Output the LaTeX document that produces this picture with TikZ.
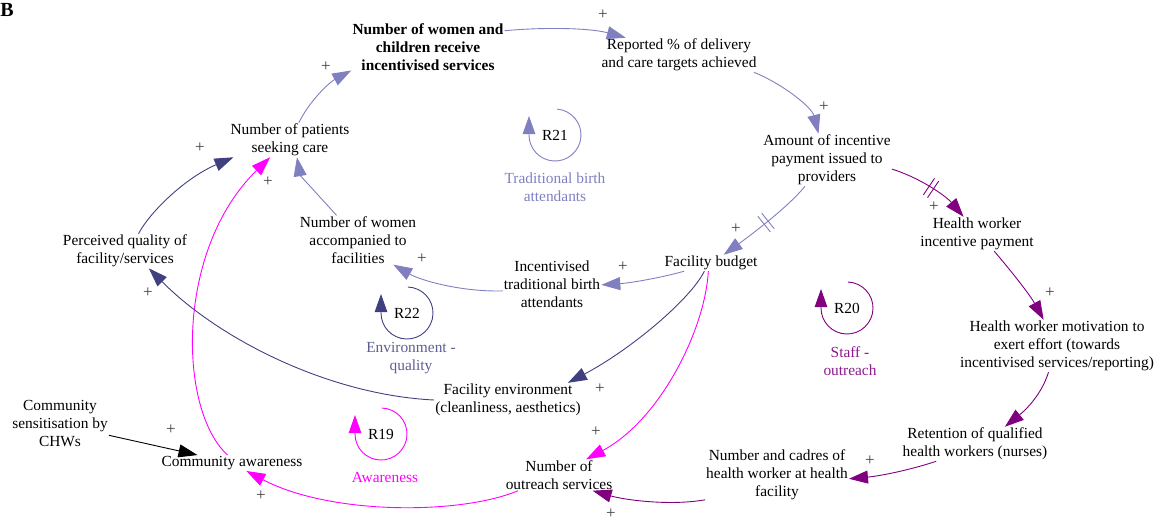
\documentclass[tikz,border=0pt]{standalone}
\usepackage{fontspec}
\setmainfont{Liberation Serif}
\usetikzlibrary{arrows.meta,decorations.markings}

\definecolor{lav}{RGB}{128,128,192}
\definecolor{navy}{RGB}{64,64,128}
\definecolor{mag}{RGB}{255,0,255}
\definecolor{purp}{RGB}{128,0,128}

\begin{document}
\begin{tikzpicture}[x=1pt,y=-1pt,
  lbl/.style={align=center, inner sep=1pt, font=\fontsize{15.4}{18}\selectfont},
  pls/.style={inner sep=0pt, font=\fontsize{17}{17}\selectfont, text=black!75},
  link/.style={line width=0.9pt, -{Triangle[length=19pt,width=13pt]}},
  loopline/.style={line width=0.9pt, -{Triangle[length=18pt,width=12.5pt]}},
  delaymark/.style={postaction={decorate,decoration={markings,
      mark=at position #1 with {\draw[line width=0.9pt,-] (-2.5pt,-10pt) -- (-2.5pt,10pt) (2.5pt,-10pt) -- (2.5pt,10pt);}}}},
]
\useasboundingbox (0,0) rectangle (1158,522);

% panel letter
\node[inner sep=0pt, font=\fontsize{20}{20}\selectfont\bfseries] (panel) at (7,10) {B};

% variables
\node[lbl, font=\fontsize{15.4}{18}\selectfont\bfseries] (women) at (428,47) {Number of women and\\children receive\\incentivised services};
\node[lbl] (rep)  at (679,55)  {Reported \% of delivery\\and care targets achieved};
\node[lbl] (amt)  at (827,160) {Amount of incentive\\payment issued to\\providers};
\node[lbl] (hwi)  at (977,234) {Health worker\\incentive payment};
\node[lbl] (hwm)  at (1057,346) {Health worker motivation to\\exert effort (towards\\incentivised services/reporting)};
\node[lbl] (ret)  at (975,444) {Retention of qualified\\health workers (nurses)};
\node[lbl] (cad)  at (777,475) {Number and cadres of\\health worker at health\\facility};
\node[lbl] (out)  at (559,475) {Number of\\outreach services};
\node[lbl] (caw)  at (232,463) {Community awareness};
\node[lbl] (sens) at (60,424)  {Community\\sensitisation by\\CHWs};
\node[lbl] (perc) at (125,251) {Perceived quality of\\facility/services};
\node[lbl] (pat)  at (290,140) {Number of patients\\seeking care};
\node[lbl] (acc)  at (358,240) {Number of women\\accompanied to\\facilities};
\node[lbl] (tba)  at (552,284) {Incentivised\\traditional birth\\attendants};
\node[lbl] (bud)  at (711,263) {Facility budget};
\node[lbl] (env)  at (508,400) {Facility environment\\(cleanliness, aesthetics)};

% loop identifiers
\node[lbl] (r21) at (555,135) {R21};
\node[lbl] (r22) at (407,313) {R22};
\node[lbl] (r19) at (381,434) {R19};
\node[lbl] (r20) at (847,308) {R20};
\node[lbl, text=lav]      (r21n) at (555,187) {Traditional birth\\attendants};
\node[lbl, text=navy!85]  (r22n) at (411,358) {Environment -\\quality};
\node[lbl, text=mag]      (r19n) at (385,477) {Awareness};
\node[lbl, text=purp!90]  (r20n) at (850,361) {Staff -\\outreach};

\draw[loopline, lav]  ([shift={(85:26pt)}]r21.center) arc[start angle=85, end angle=-180, radius=26pt] -- ++(0,-19);
\draw[loopline, navy] ([shift={(88:26pt)}]r22.center) arc[start angle=88, end angle=-180, radius=26pt] -- ++(0,-19);
\draw[loopline, mag]  ([shift={(88:26pt)}]r19.center) arc[start angle=88, end angle=-180, radius=26pt] -- ++(0,-19);
\draw[loopline, purp] ([shift={(88:26pt)}]r20.center) arc[start angle=88, end angle=-180, radius=26pt] -- ++(0,-19);

% causal links
\draw[link, lav]  (pat.63)  .. controls (310,100) and (330,82) .. (women.197);
\draw[link, lav]  (women.12) .. controls (545,27) and (590,28) .. (rep.162);
\draw[link, lav]  (rep.347) .. controls (785,85) and (812,108) .. (amt.108);
\draw[link, lav, delaymark=0.5] (amt.230) .. controls (790,205) and (755,232) .. (bud.33);
\draw[link, purp, delaymark=0.5] (amt.352) .. controls (918,177) and (945,195) .. (hwi.128);
\draw[link, purp] (hwi.315) .. controls (1012,272) and (1030,295) .. (hwm.117);
\draw[link, purp] (hwm.252) .. controls (1042,393) and (1028,408) .. (ret.30);
\draw[link, purp] (ret.204) .. controls (910,470) and (880,476) .. (cad.357);
\draw[link, purp] (cad.199) .. controls (670,506) and (625,500) .. (out.335);
\draw[link, mag]  (out.201) .. controls (460,515) and (330,515) .. (caw.331);
\draw[link, mag]  (caw.119) .. controls (178,410) and (175,250) .. (pat.221);
\draw[link, black] (sens.347) -- (caw.167);
\draw[link, navy] (env.180) .. controls (330,395) and (220,340) .. (perc.324);
\draw[link, navy] (perc.52) .. controls (150,212) and (185,178) .. (pat.197);
\draw[link, lav]  (acc.131) .. controls (318,195) and (300,175) .. (pat.292);
\draw[link, lav]  (tba.188) .. controls (460,292) and (420,280) .. (acc.325);
\draw[link, lav]  (bud.197) .. controls (660,278) and (630,283) .. (tba.359);
\draw[link, navy] (bud.231) .. controls (690,300) and (630,350) .. (env.16);
\draw[link, mag]  (bud.252) .. controls (705,330) and (660,420) .. (out.30);

% polarity signs
\node[pls] (s1)  at (326,67)  {+};
\node[pls] (s2)  at (603,15)  {+};
\node[pls] (s3)  at (824,107) {+};
\node[pls] (s4)  at (736,229) {+};
\node[pls] (s5)  at (934,207) {+};
\node[pls] (s6)  at (1050,293) {+};
\node[pls] (s7)  at (870,461) {+};
\node[pls] (s8)  at (611,514) {+};
\node[pls] (s9)  at (261,496) {+};
\node[pls] (s10) at (268,182) {+};
\node[pls] (s11) at (171,430) {+};
\node[pls] (s12) at (148,293) {+};
\node[pls] (s13) at (200,148) {+};
\node[pls] (s14) at (422,259) {+};
\node[pls] (s15) at (623,267) {+};
\node[pls] (s16) at (600,389) {+};
\node[pls] (s17) at (596,432) {+};
\end{tikzpicture}
\end{document}
